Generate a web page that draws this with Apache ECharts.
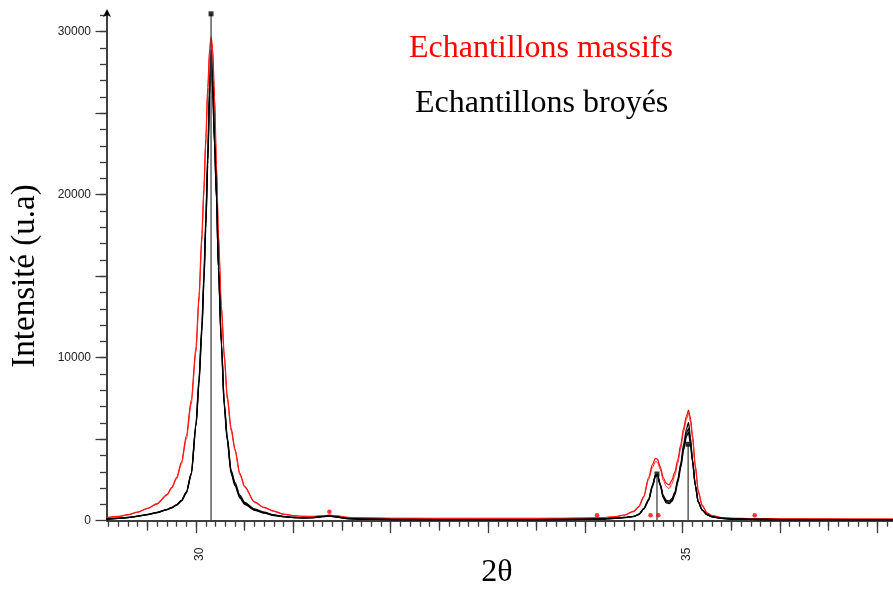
<!DOCTYPE html>
<html><head><meta charset="utf-8">
<script src="https://cdn.jsdelivr.net/npm/echarts@6/dist/echarts.min.js"></script>
<style>html,body{margin:0;padding:0;background:#fff}#c{width:893px;height:590px}</style>
</head><body><div id="c"></div>
<script>
// 2θ positions (deg)
const twoTheta = [
  29.08, 29.2, 29.3, 29.4, 29.5, 29.6, 29.7, 29.75, 29.8, 29.85,
  29.9, 29.95, 30.0, 30.03, 30.06, 30.08, 30.10, 30.12, 30.14, 30.155,
  30.17, 30.19, 30.21, 30.23, 30.26, 30.29, 30.32, 30.36, 30.4, 30.45,
  30.5, 30.6, 30.7, 30.8, 30.9, 31.0, 31.1, 31.2, 31.3, 31.37,
  31.45, 31.55, 31.7, 32.0, 32.5, 33.0, 33.5, 33.8, 34.0, 34.15,
  34.3, 34.4, 34.5, 34.55, 34.6, 34.65, 34.69, 34.72, 34.74, 34.77,
  34.8, 34.83, 34.86, 34.89, 34.92, 34.95, 34.98, 35.01, 35.04, 35.06,
  35.08, 35.1, 35.13, 35.16, 35.2, 35.25, 35.3, 35.4, 35.5, 35.7,
  36.0, 36.5, 37.0, 37.16
];
// Echantillons massifs (red)
const massif1 = [
  185, 260, 370, 530, 760, 1050, 1600, 2050, 2650, 3600,
  5200, 7400, 10700, 13800, 17600, 20400, 23500, 26600, 29000, 29700,
  29000, 26000, 21800, 17600, 13200, 10200, 7700, 5700, 4400, 2900,
  2100, 1150, 820, 590, 400, 310, 270, 260, 300, 340,
  290, 200, 170, 150, 140, 140, 140, 150, 160, 180,
  240, 350, 590, 880, 1500, 2650, 3450, 3830, 3780, 3300,
  2650, 2300, 2190, 2500, 3000, 3750, 4650, 5700, 6450, 6790,
  6300, 5300, 3400, 1850, 950, 480, 320, 190, 150, 130,
  120, 110, 100, 100
];
const massif2 = [
  185, 255, 360, 515, 740, 1020, 1550, 1980, 2560, 3480,
  5000, 7150, 10400, 13500, 17200, 20000, 23100, 26200, 28700, 29400,
  28700, 25700, 21500, 17300, 13000, 10000, 7500, 5550, 4300, 2820,
  2050, 1120, 800, 575, 390, 300, 265, 255, 295, 330,
  285, 195, 165, 145, 135, 135, 135, 145, 155, 175,
  230, 335, 560, 840, 1430, 2530, 3280, 3620, 3580, 3150,
  2480, 2100, 1970, 2280, 2780, 3550, 4450, 5500, 6250, 6590,
  6100, 5100, 3250, 1750, 900, 460, 310, 185, 145, 125,
  115, 105, 95, 95
];
// Echantillons broyés (black)
const broye1 = [
  100, 150, 200, 280, 380, 510, 690, 810, 980, 1250,
  1750, 2900, 6000, 8700, 12000, 15000, 18500, 22500, 27000, 28900,
  27200, 23500, 20000, 15500, 10800, 7000, 4950, 2900, 2150, 1400,
  1000, 640, 460, 320, 240, 190, 170, 190, 260, 290,
  230, 140, 100, 80, 70, 70, 70, 80, 90, 110,
  150, 200, 270, 400, 750, 1300, 2200, 2800, 2860, 2250,
  1550, 1250, 1210, 1350, 1750, 2550, 3500, 4700, 5650, 6030,
  5100, 3800, 2200, 1150, 650, 360, 240, 140, 100, 80,
  70, 60, 60, 60
];
const broye2 = [
  95, 145, 195, 275, 375, 500, 680, 800, 970, 1230,
  1720, 2850, 5900, 8550, 11800, 14700, 18200, 22100, 26500, 28400,
  26800, 23200, 19800, 15500, 10900, 7100, 5050, 3000, 2250, 1480,
  1060, 680, 490, 340, 250, 195, 175, 190, 255, 285,
  225, 135, 95, 75, 65, 65, 65, 75, 85, 105,
  145, 195, 265, 390, 730, 1270, 2150, 2760, 2800, 2200,
  1480, 1170, 1130, 1270, 1680, 2450, 3380, 4520, 5380, 5670,
  4850, 3700, 2150, 1150, 660, 370, 245, 145, 100, 80,
  70, 60, 60, 60
];
const broye3 = [
  90, 140, 190, 270, 370, 495, 670, 790, 960, 1210,
  1700, 2800, 5800, 8400, 11600, 14500, 17900, 21800, 26100, 28000,
  26500, 23000, 19700, 15500, 11000, 7250, 5150, 3100, 2350, 1560,
  1120, 720, 520, 360, 265, 200, 180, 190, 250, 280,
  220, 130, 90, 70, 60, 60, 60, 70, 80, 100,
  140, 190, 260, 380, 710, 1240, 2100, 2710, 2750, 2150,
  1420, 1100, 1050, 1190, 1600, 2350, 3250, 4350, 5180, 5420,
  4700, 3650, 2150, 1150, 670, 380, 250, 150, 100, 80,
  70, 60, 60, 60
];
// reference sticks
const stickPos = [30.154, 34.736, 35.056];
const stickHeight = [31100, 2865, 4690];
// red reference markers
const markerPos = [31.37, 34.12, 34.67, 34.75, 35.74];
const markerVal = [550, 340, 330, 330, 330];
// tick labels
const xLabels = [30, 35];
const yLabels = [0, 10000, 20000, 30000];
const texts = {
  massif: 'Echantillons massifs',
  broye: 'Echantillons broyés',
  yTitle: 'Intensité (u.a)',
  xTitle: '2θ'
};

const X_MIN = 29.085, X_MAX = 37.161, Y_MAX = 31150;
const xMajor = [], xHalf = [], xMinor = [], yMid = [], yMinor = [];
for (let v = 30; v <= 37; v++) xMajor.push(v);
for (let v = 29.5; v <= 37; v += 1) xHalf.push(v);
for (let k = 291; k <= 371; k++) xMinor.push(k / 10);
for (let v = 0; v <= 30000; v += 5000) yMid.push(v);
for (let v = 1000; v <= 31000; v += 1000) yMinor.push(v);

const rect = {left: 107, top: 13, right: 0, bottom: 69.3};
const pairs = ys => twoTheta.map((x, i) => [x, ys[i]]);
const tickCol = '#3a3a3a';

function xAx(gi, ticks, len, main) {
  return {
    type: 'value', gridIndex: gi, min: X_MIN, max: X_MAX, position: 'bottom',
    splitLine: {show: false},
    axisLine: {show: main, onZero: false, lineStyle: {color: '#000', width: 1.5}},
    axisTick: {show: true, customValues: ticks, length: len, lineStyle: {color: tickCol, width: 1.3}},
    axisLabel: main ? {show: true, customValues: xLabels, rotate: 90, margin: 27,
      verticalAlign: 'top', lineHeight: 8,
      formatter: v => String(v),
      fontFamily: 'Liberation Sans', fontSize: 12, color: '#222'} : {show: false, customValues: ticks}
  };
}
function yAx(gi, ticks, len, main) {
  return {
    type: 'value', gridIndex: gi, min: 0, max: Y_MAX,
    splitLine: {show: false},
    axisLine: {show: main, onZero: false, symbol: ['none', 'arrow'], symbolSize: [6, 8], symbolOffset: [0, 4],
      lineStyle: {color: '#000', width: 1.5}},
    axisTick: {show: true, customValues: ticks, length: len, lineStyle: {color: tickCol, width: 1.3}},
    axisLabel: main ? {show: true, customValues: yLabels, margin: 16,
      formatter: v => String(v),
      fontFamily: 'Liberation Sans', fontSize: 12, color: '#222'} : {show: false, customValues: ticks}
  };
}

const series = [];
const lineS = (data, color, w) => ({type: 'line', xAxisIndex: 0, yAxisIndex: 0, data: pairs(data),
  showSymbol: false, symbol: 'none', smooth: 0.25, smoothMonotone: 'x',
  lineStyle: {color, width: w}, z: 3, silent: true});
series.push(lineS(massif1, '#ff0000', 1.2));
series.push(lineS(massif2, '#ff2020', 1.0));
series.push(lineS(broye1, '#000', 1.3));
series.push(lineS(broye2, '#000', 1.3));
series.push(lineS(broye3, '#000', 1.3));
stickPos.forEach((p, i) => {
  series.push({type: 'line', xAxisIndex: 0, yAxisIndex: 0, data: [[p, 0], [p, stickHeight[i]]],
    symbol: 'none', lineStyle: {color: '#444', width: 1.3}, z: 4, silent: true});
});
series.push({type: 'scatter', xAxisIndex: 0, yAxisIndex: 0, symbol: 'rect', symbolSize: 5,
  data: stickPos.map((p, i) => [p, stickHeight[i]]), itemStyle: {color: '#000'}, z: 5, silent: true});
series.push({type: 'scatter', xAxisIndex: 0, yAxisIndex: 0, symbol: 'circle', symbolSize: 4.5,
  data: markerPos.map((p, i) => [p, markerVal[i]]), itemStyle: {color: '#ff0000'}, z: 5, silent: true});

const chart = echarts.init(document.getElementById('c'), null, {renderer: 'canvas'});
chart.setOption({
  animation: false,
  backgroundColor: '#fff',
  grid: [Object.assign({}, rect), Object.assign({}, rect), Object.assign({}, rect)],
  xAxis: [xAx(0, xMajor, 12.5, true), xAx(1, xHalf, 10, false), xAx(2, xMinor, 6, false)],
  yAxis: [yAx(0, yMid, 11.5, true), yAx(1, yMinor, 7, false), Object.assign(yAx(2, yMinor, 7, false), {show: false})],
  series: series,
  graphic: [
    {type: 'text', x: 409, y: 49, style: {text: texts.massif, font: '32px "Liberation Serif"', fill: '#ff0000', align: 'left', verticalAlign: 'middle'}},
    {type: 'text', x: 415, y: 104, style: {text: texts.broye, font: '32px "Liberation Serif"', fill: '#000', align: 'left', verticalAlign: 'middle'}},
    {type: 'text', x: 25, y: 276, rotation: Math.PI / 2, style: {text: texts.yTitle, font: '33px "Liberation Serif"', fill: '#000', align: 'center', verticalAlign: 'middle'}},
    {type: 'text', x: 497, y: 573, style: {text: texts.xTitle, font: '32px "Liberation Serif"', fill: '#000', align: 'center', verticalAlign: 'middle'}}
  ]
});
</script>
</body></html>
